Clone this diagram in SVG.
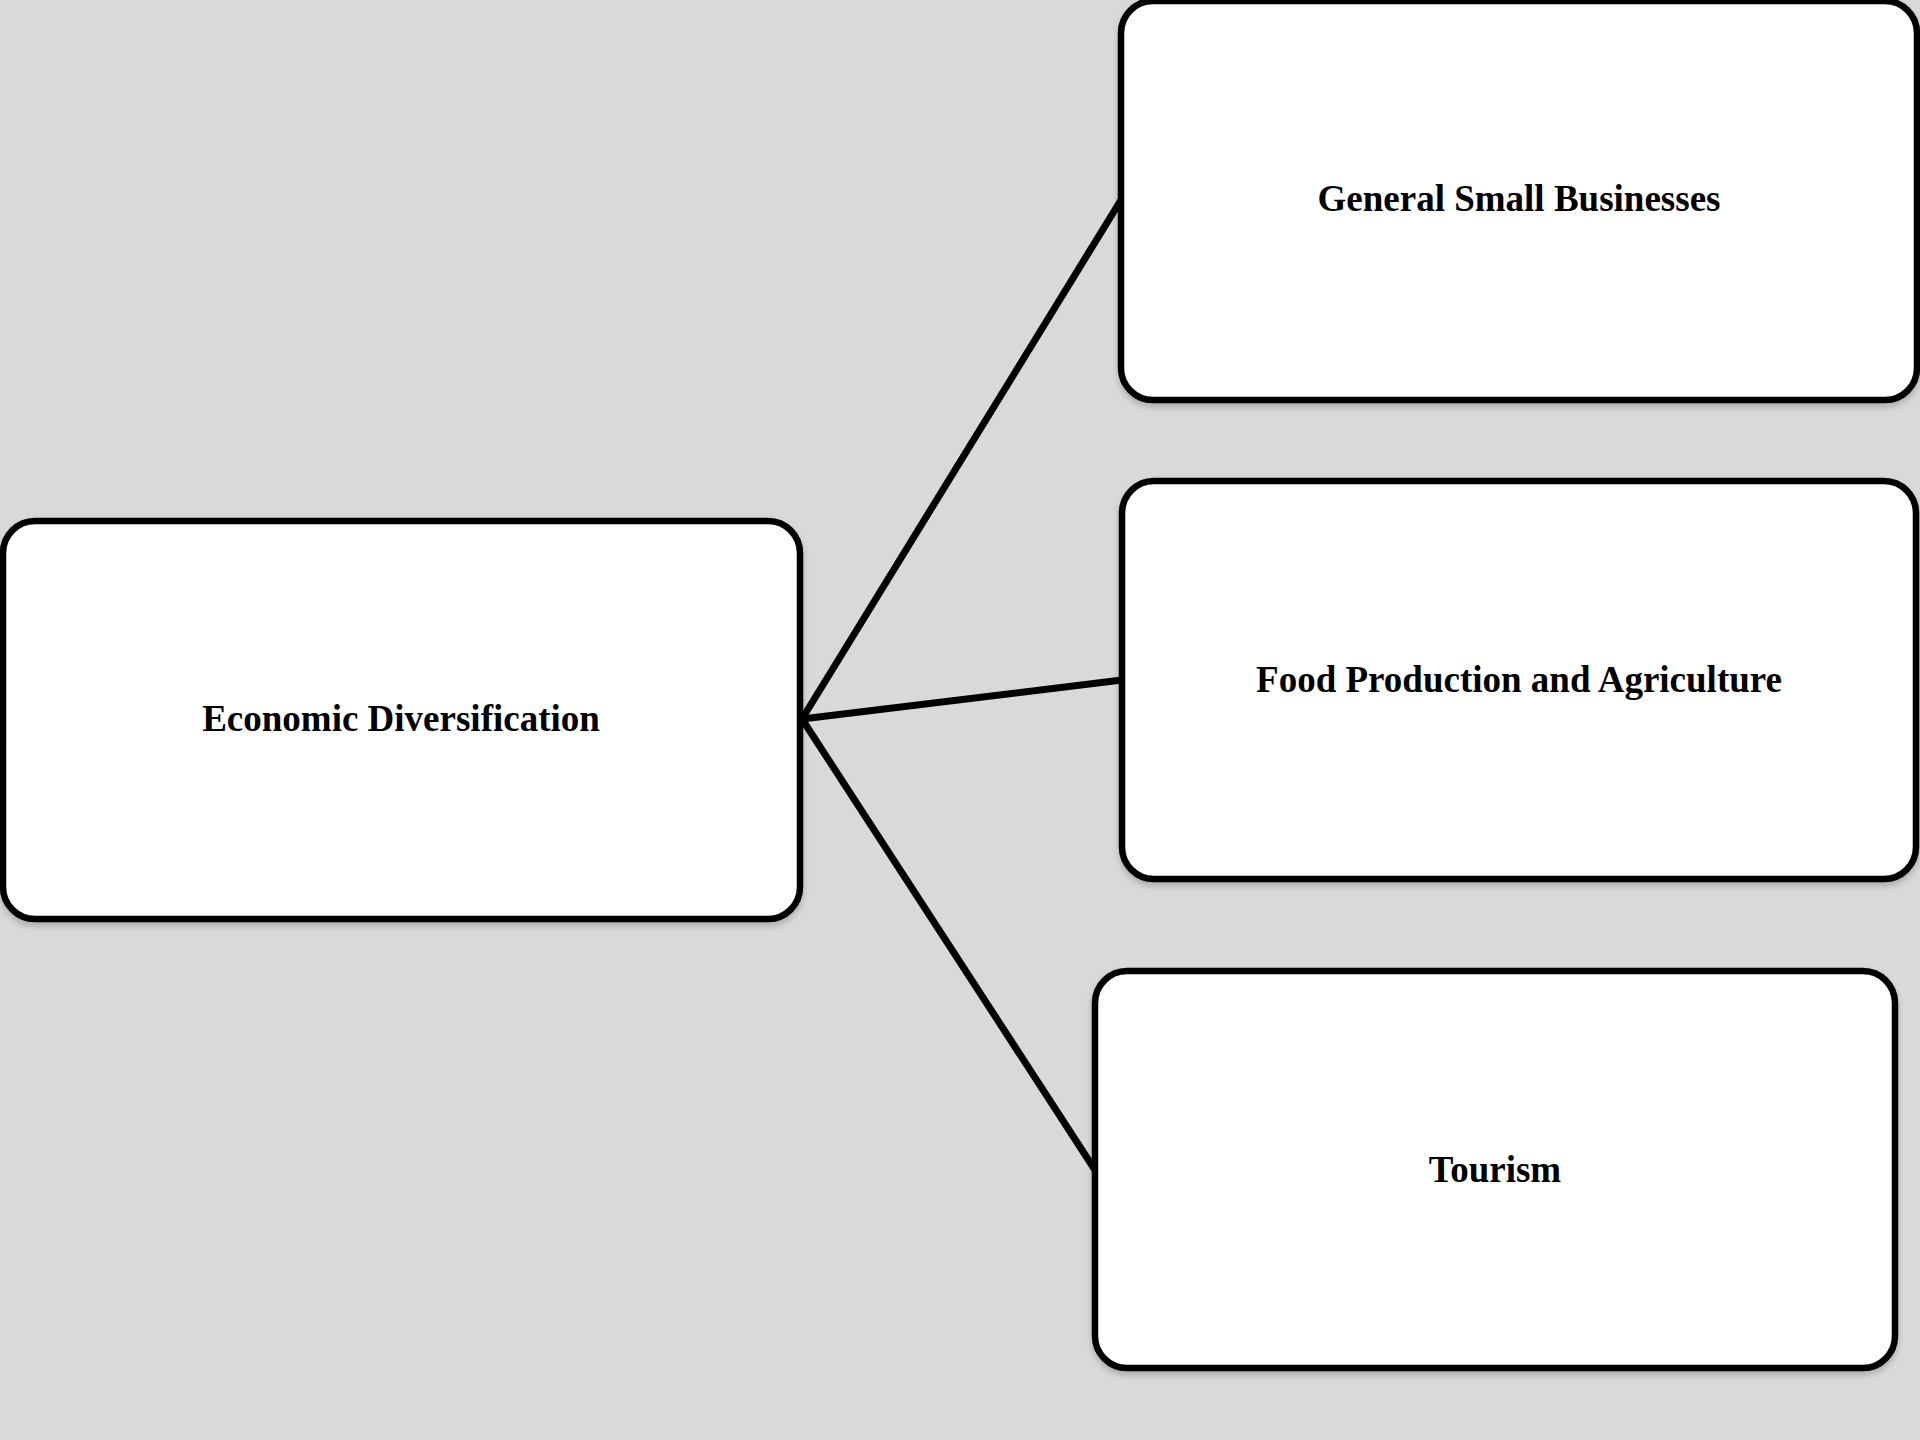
<svg xmlns="http://www.w3.org/2000/svg" width="1920" height="1440" viewBox="0 0 1920 1440">
<style>
.box{fill:#ffffff;stroke:#000000;stroke-width:6.5;filter:url(#sh)}
.lbl{font-family:"Liberation Serif","Times New Roman",serif;font-weight:bold;font-size:37px;fill:#000000;text-anchor:middle;dominant-baseline:central}
.edge{stroke:#000000;stroke-width:7;fill:none}
</style>
<defs>
<filter id="sh" x="-5%" y="-5%" width="110%" height="115%">
<feDropShadow dx="0" dy="4" stdDeviation="3" flood-color="#000000" flood-opacity="0.2"/>
</filter>
</defs>
<rect x="0" y="0" width="1920" height="1440" fill="#d9d9d9"/>
<g id="connectors">
<line class="edge" x1="802" y1="719" x2="1121" y2="200"/>
<line class="edge" x1="802" y1="719" x2="1122" y2="680"/>
<line class="edge" x1="802" y1="719" x2="1095" y2="1170"/>
</g>
<g id="node-economic">
<rect class="box" x="3" y="521" width="797" height="398" rx="32"/>
<text class="lbl" x="401" y="718">Economic Diversification</text>
</g>
<g id="node-small-businesses">
<rect class="box" x="1121" y="1" width="796" height="399" rx="32"/>
<text class="lbl" x="1519" y="198">General Small Businesses</text>
</g>
<g id="node-food">
<rect class="box" x="1122" y="481" width="794" height="398" rx="32"/>
<text class="lbl" x="1519" y="679">Food Production and Agriculture</text>
</g>
<g id="node-tourism">
<rect class="box" x="1095" y="971" width="800" height="397" rx="32"/>
<text class="lbl" x="1495" y="1169">Tourism</text>
</g>
</svg>
